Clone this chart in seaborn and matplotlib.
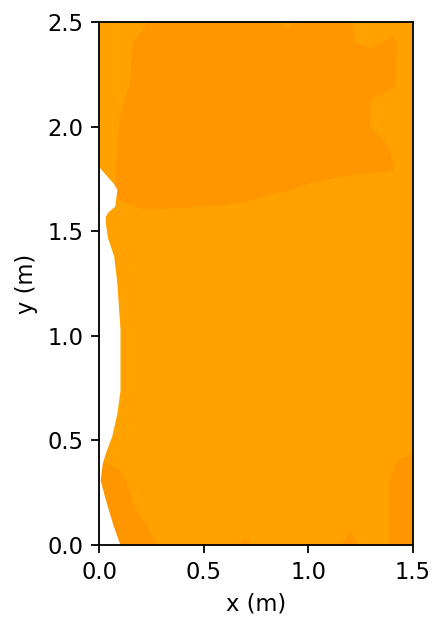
import numpy as np
import matplotlib
matplotlib.use("Agg")
import matplotlib.pyplot as plt
import seaborn as sns

# grid coordinates (m)
x_grid = [0.0, 0.1, 0.2, 0.3, 0.4, 0.5, 0.6, 0.7, 0.8, 0.9, 1.0, 1.1, 1.2, 1.3, 1.4, 1.5]
y_grid_top_down = [2.5, 2.4, 2.3, 2.2, 2.1, 2.0, 1.9, 1.8, 1.7, 1.6, 1.5, 1.4, 1.3,
                   1.2, 1.1, 1.0, 0.9, 0.8, 0.7, 0.6, 0.5, 0.4, 0.3, 0.2, 0.1, 0.0]

# field value per grid node (rows from y=2.5 down to y=0.0)
field_top_down = [
    [0, 0, 0.2, 1, 1, 1, 1, 1, 1, 0.2, 1, 1, 0.55, 0, 0, 0],
    [0, 0, 0.8, 1, 1, 1, 1, 1, 1, 1, 1, 1, 0.55, 0.3, 0.7, 0],
    [0, 0, 0.9, 1, 1, 1, 1, 1, 1, 1, 1, 1, 1, 1, 0.6, 0],
    [0, 0, 1, 1, 1, 1, 1, 1, 1, 1, 1, 1, 1, 0.6, 0.6, 0],
    [0, 0.4, 1, 1, 1, 1, 1, 1, 1, 1, 1, 1, 1, 0.45, 0, 0],
    [0, 0.52, 1, 1, 1, 1, 1, 1, 1, 1, 1, 1, 1, 0.45, 0, 0],
    [0, 0.55, 1, 1, 1, 1, 1, 1, 1, 1, 1, 1, 1, 1, 0.4, 0],
    [0, 0.6, 1, 1, 1, 1, 1, 1, 1, 1, 1, 1, 0.7, 0.63, 0.55, 0],
    [0, 0.6, 1, 1, 1, 1, 1, 1, 0.7, 0.52, 0.3, 0, 0, 0, 0, 0],
    [0, 0.4, 0.45, 0.45, 0.42, 0.38, 0.3, 0.1, 0, 0, 0, 0, 0, 0, 0, 0],
    [0, 0, 0, 0, 0, 0, 0, 0, 0, 0, 0, 0, 0, 0, 0, 0],
    [0, 0, 0, 0, 0, 0, 0, 0, 0, 0, 0, 0, 0, 0, 0, 0],
    [0, 0, 0, 0, 0, 0, 0, 0, 0, 0, 0, 0, 0, 0, 0, 0],
    [0, 0, 0, 0, 0, 0, 0, 0, 0, 0, 0, 0, 0, 0, 0, 0],
    [0, 0, 0, 0, 0, 0, 0, 0, 0, 0, 0, 0, 0, 0, 0, 0],
    [0, 0, 0, 0, 0, 0, 0, 0, 0, 0, 0, 0, 0, 0, 0, 0],
    [0, 0, 0, 0, 0, 0, 0, 0, 0, 0, 0, 0, 0, 0, 0, 0],
    [0, 0, 0, 0, 0, 0, 0, 0, 0, 0, 0, 0, 0, 0, 0, 0],
    [0, 0, 0, 0, 0, 0, 0, 0, 0, 0, 0, 0, 0, 0, 0, 0],
    [0, 0, 0, 0, 0, 0, 0, 0, 0, 0, 0, 0, 0, 0, 0, 0],
    [0, 0, 0, 0, 0, 0, 0, 0, 0, 0, 0, 0, 0, 0, 0, 0],
    [0.55, 0.3, 0, 0, 0, 0, 0, 0, 0, 0, 0, 0, 0, 0, 0.4, 0.8],
    [1, 0.72, 0, 0, 0, 0, 0, 0, 0, 0, 0, 0, 0, 0, 0.55, 1],
    [1, 1, 0.17, 0, 0, 0, 0, 0, 0, 0, 0, 0, 0, 0, 0.55, 1],
    [1, 1, 0.62, 0, 0, 0, 0, 0, 0, 0, 0, 0, 0.3, 0, 0.55, 1],
    [1, 1, 1, 0.38, 0, 0, 0, 0.7, 0, 0, 0, 0, 0.8, 0, 0.55, 1],
]

# left boundary of the flow domain (white area to its left)
wall_y = [0.0, 0.1, 0.2, 0.31, 0.39, 0.44, 0.52, 0.63, 0.74, 1.03, 1.25, 1.38,
          1.47, 1.54, 1.57, 1.59, 1.62, 1.64, 1.70, 1.73, 1.76, 1.80, 1.81, 2.5]
wall_x = [0.10, 0.065, 0.035, 0.005, 0.015, 0.03, 0.06, 0.085, 0.10, 0.10, 0.085, 0.07,
          0.04, 0.03, 0.03, 0.04, 0.075, 0.077, 0.085, 0.067, 0.04, 0.005, 0.0, 0.0]

band_levels = [-1.0, 0.5, 2.0]
band_colors = ["#ffa200", "#ff9600"]

x_ticks = [0.0, 0.5, 1.0, 1.5]
y_ticks = [0.0, 0.5, 1.0, 1.5, 2.0, 2.5]

sns.set_style("ticks")
plt.rcParams["font.family"] = ["DejaVu Sans"]

k = 1.63  # scale of the original rendering relative to 100 dpi defaults
fig = plt.figure(figsize=(4.35, 6.18), dpi=100)
ax = fig.add_axes([99 / 435, 1 - 545 / 618, 314 / 435, 523 / 618])

y_grid = np.array(y_grid_top_down)[::-1]
field = np.array(field_top_down, dtype=float)[::-1]

ax.contourf(np.array(x_grid), y_grid, field, levels=band_levels, colors=band_colors,
            antialiased=False)
ax.fill_betweenx(wall_y, 0, wall_x, color="white", lw=0, zorder=2)

ax.set_xlim(0, 1.5)
ax.set_ylim(0, 2.5)
ax.set_aspect("equal", adjustable="box")
ax.set_xticks(x_ticks)
ax.set_yticks(y_ticks)
ax.set_xticklabels([f"{v:.1f}" for v in x_ticks])
ax.set_yticklabels([f"{v:.1f}" for v in y_ticks])
ax.tick_params(axis="both", which="major", direction="out", length=3.5 * k,
               width=0.8 * k, labelsize=10 * k, color="black", labelcolor="black",
               pad=3.5 * k)
for side in ["left", "right", "top", "bottom"]:
    ax.spines[side].set_visible(True)
    ax.spines[side].set_color("black")
    ax.spines[side].set_linewidth(0.8 * k)
    ax.spines[side].set_zorder(5)
ax.set_xlabel("x (m)", fontsize=10 * k, color="black", labelpad=4 * k)
ax.set_ylabel("y (m)", fontsize=10 * k, color="black", labelpad=4 * k)

fig.savefig("out.png", dpi=100, facecolor="white")
